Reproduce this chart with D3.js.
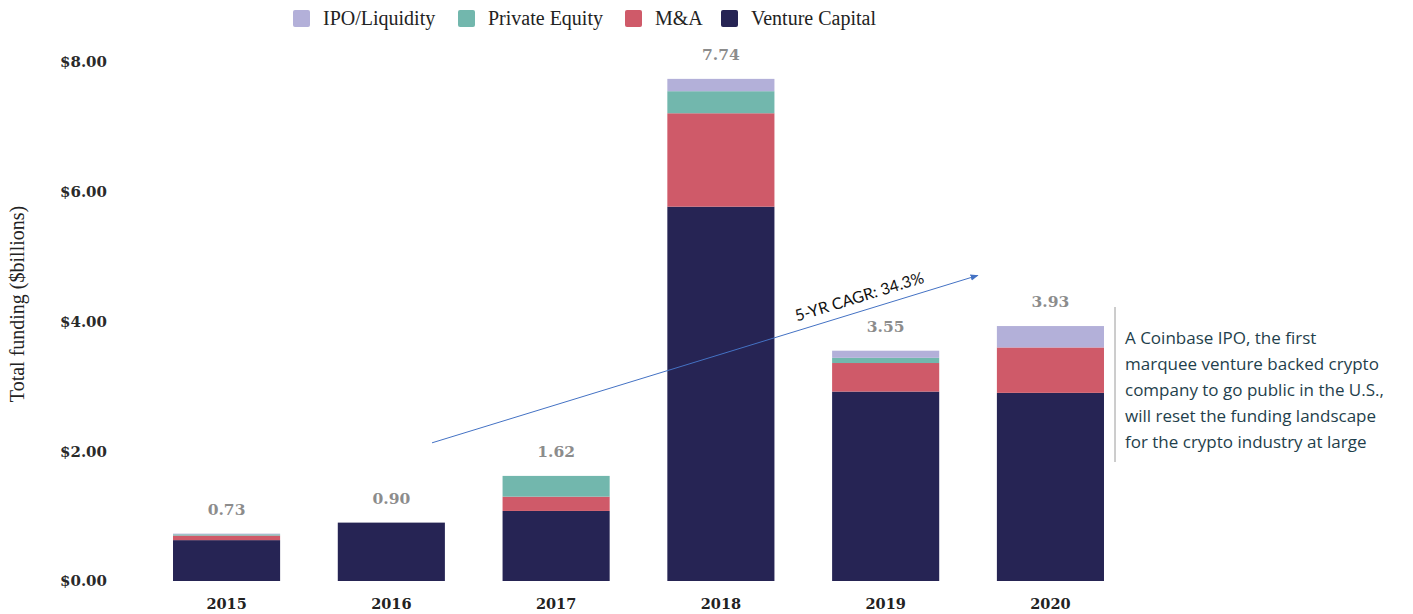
<!DOCTYPE html>
<html><head><meta charset="utf-8">
<script src="https://cdn.jsdelivr.net/npm/d3@7"></script>
<style>body{margin:0;background:#fff}</style>
</head><body>
<svg id="c" width="1413" height="614"></svg>
<script>
const years = ["2015","2016","2017","2018","2019","2020"];
const ventureCapital = [0.63, 0.90, 1.08, 5.77, 2.92, 2.90];
const mna            = [0.07, 0.00, 0.22, 1.44, 0.44, 0.70];
const privateEquity  = [0.02, 0.00, 0.32, 0.34, 0.08, 0.00];
const ipoLiquidity   = [0.01, 0.00, 0.00, 0.19, 0.11, 0.33];
const totals = ["0.73","0.90","1.62","7.74","3.55","3.93"];
const seriesNames = ["Venture Capital","M&A","Private Equity","IPO/Liquidity"];
const legendOrder = ["IPO/Liquidity","Private Equity","M&A","Venture Capital"];
const yTicks = [0, 2, 4, 6, 8];
const cagrLabel = "5-YR CAGR: 34.3%";
const cagrStart = {year:"2016", frac:0.88, value:2.13};
const cagrEnd = {year:"2019", frac:1.36, value:4.71};
const noteLines = ["A Coinbase IPO, the first","marquee venture backed crypto","company to go public in the U.S.,","will reset the funding landscape","for the crypto industry at large"];

const colors = {"Venture Capital":"#262454","M&A":"#cf5a69","Private Equity":"#72b7ad","IPO/Liquidity":"#b3b0d9"};
const svg = d3.select("#c");
const x = d3.scaleBand().domain(years).range([145,1132]).paddingInner(0.35).paddingOuter(0.17);
const y = d3.scaleLinear().domain([0,8]).range([581,62]);

const rows = years.map((yr,i)=>({year:yr,"Venture Capital":ventureCapital[i],"M&A":mna[i],"Private Equity":privateEquity[i],"IPO/Liquidity":ipoLiquidity[i]}));
const stack = d3.stack().keys(seriesNames)(rows);

svg.append("g").selectAll("g").data(stack).join("g").attr("fill",d=>colors[d.key])
  .selectAll("rect").data(d=>d).join("rect")
  .attr("x",d=>x(d.data.year)).attr("width",x.bandwidth())
  .attr("y",d=>y(d[1])).attr("height",d=>Math.max(0,y(d[0])-y(d[1])));

// totals
svg.append("g").selectAll("text").data(years).join("text")
  .attr("x",d=>x(d)+x.bandwidth()/2)
  .attr("y",(d,i)=>y(ventureCapital[i]+mna[i]+privateEquity[i]+ipoLiquidity[i])-19)
  .attr("text-anchor","middle").attr("font-family","DejaVu Serif").attr("font-weight","bold")
  .attr("font-size",15.5).attr("fill","#8c8c8c").text((d,i)=>totals[i]);

// x axis labels
const xa = svg.append("g").attr("transform","translate(0,581)")
  .call(d3.axisBottom(x).tickSize(0).tickPadding(18));
xa.select(".domain").remove();
xa.selectAll("text").attr("font-family","DejaVu Serif").attr("font-weight","bold").attr("font-size",14.5).attr("fill","#222");

// y axis labels
const ya = svg.append("g").attr("transform","translate(107,0)")
  .call(d3.axisLeft(y).tickValues(yTicks).tickSize(0).tickPadding(0).tickFormat(d=>"$"+d3.format(".2f")(d)));
ya.select(".domain").remove();
ya.selectAll("text").attr("font-family","DejaVu Serif").attr("font-weight","bold").attr("font-size",15).attr("fill","#2a2a2a");

svg.append("text").attr("transform","translate(24,304) rotate(-90)").attr("text-anchor","middle")
  .attr("font-family","Liberation Serif").attr("font-size",20).attr("fill","#222").text("Total funding ($billions)");

// legend
const legX = [293, 458, 625, 721];
const leg = svg.append("g").selectAll("g").data(legendOrder).join("g")
  .attr("transform",(d,i)=>`translate(${legX[i]},10)`);
leg.append("rect").attr("width",17).attr("height",17).attr("rx",2).attr("fill",d=>colors[d]);
leg.append("text").attr("x",30).attr("y",15).attr("font-family","Liberation Serif").attr("font-size",20).attr("fill","#222").text(d=>d);

// CAGR arrow
svg.append("defs").append("marker").attr("id","ah").attr("viewBox","0 0 10 10").attr("refX",9).attr("refY",5)
  .attr("markerWidth",8).attr("markerHeight",8).attr("orient","auto")
  .append("path").attr("d","M0,1 L10,5 L0,9 Z").attr("fill","#4472c4");
const ax1 = x(cagrStart.year)+x.bandwidth()*cagrStart.frac, ay1 = y(cagrStart.value);
const ax2 = x(cagrEnd.year)+x.bandwidth()*cagrEnd.frac, ay2 = y(cagrEnd.value);
svg.append("line").attr("x1",ax1).attr("y1",ay1).attr("x2",ax2).attr("y2",ay2)
  .attr("stroke","#4472c4").attr("stroke-width",1).attr("marker-end","url(#ah)");
const ang = Math.atan2(ay2-ay1, ax2-ax1)*180/Math.PI;
svg.append("text").attr("transform",`translate(861,302) rotate(${ang})`).attr("text-anchor","middle")
  .attr("font-family","Lato").attr("font-size",16).attr("fill","#111").text(cagrLabel);

// note
svg.append("line").attr("x1",1115).attr("x2",1115).attr("y1",307).attr("y2",462).attr("stroke","#9a9a9a").attr("stroke-width",1);
svg.append("g").selectAll("text").data(noteLines).join("text")
  .attr("x",1125).attr("y",(d,i)=>344+i*26).attr("font-family","Open Sans").attr("font-size",17).attr("fill","#1f3f4c").text(d=>d);
</script>
</body></html>
